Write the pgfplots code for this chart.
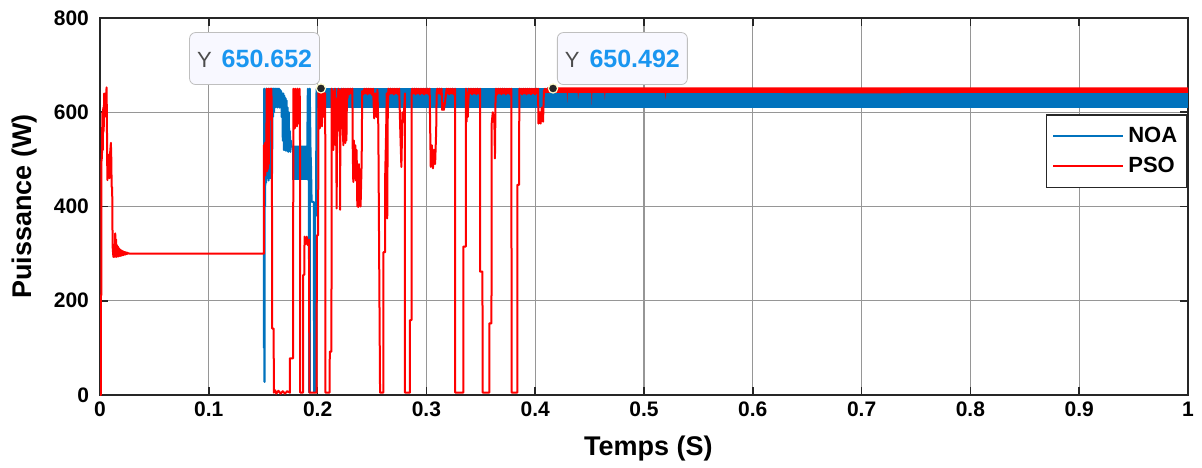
\documentclass[border=0pt]{standalone}
\usepackage{fontspec}
\setmainfont{Liberation Sans}
\usepackage{pgfplots}
\pgfplotsset{compat=1.18}
\definecolor{noablue}{RGB}{0,114,189}
\definecolor{psored}{RGB}{255,0,0}
\definecolor{tipblue}{RGB}{26,150,240}
\definecolor{gridc}{RGB}{150,150,150}
\definecolor{tipbg}{RGB}{248,248,255}
\begin{document}
\begin{tikzpicture}
\useasboundingbox (-50pt,-36pt) rectangle (551pt,197.5pt);
\begin{axis}[
  scale only axis, width=544pt, height=188.5pt,
  xmin=0, xmax=1, ymin=0, ymax=800,
  xtick={0,0.1,0.2,0.3,0.4,0.5,0.6,0.7,0.8,0.9,1},
  xticklabels={0,0.1,0.2,0.3,0.4,0.5,0.6,0.7,0.8,0.9,1},
  ytick={0,200,400,600,800},
  grid=major, major grid style={gridc, line width=0.6pt},
  tick align=inside, major tick length=4pt,
  axis line style={black!85, line width=0.9pt},
  tick style={black!85, line width=0.8pt},
  /pgf/number format/assume math mode=true,
  ticklabel style={font=\bfseries\fontsize{10.5}{12}\selectfont},
  yticklabel style={xshift=-2pt},
  xlabel={Temps (S)}, ylabel={Puissance (W)},
  label style={font=\bfseries\fontsize{13.5}{16}\selectfont},
  xlabel style={at={(axis description cs:0.504,-0.143)}, anchor=center},
  ylabel style={at={(axis description cs:-0.069,0.5)}, anchor=center},
  legend style={at={(axis description cs:1,0.745)}, anchor=north east,
    draw=black!85, line width=0.8pt, fill=white, row sep=2pt, inner ysep=4pt,
    font=\bfseries\fontsize{11}{13}\selectfont},
  legend image code/.code={\draw[#1] (0pt,0pt) -- (35pt,0pt);},
  legend cell align=left,
]
% NOA band (rapid oscillation 610-651)
\addplot[fill=noablue, draw=none, forget plot] coordinates {(0.199,610) (1,610) (1,651) (0.199,651)};
\addplot[fill=noablue, draw=none, forget plot] coordinates {(0.1762,456) (0.1912,456) (0.1912,527) (0.1762,527)};
% NOA
\addplot[noablue, line width=1pt, line join=round] coordinates {
(0.1505,300) (0.1507,300) (0.1507,100) (0.1509,100) (0.1509,650) (0.1511,650) (0.1511,28) (0.1514,28)
(0.1514,640) (0.1518,400) (0.1522,620) (0.1526,450) (0.1530,650) (0.1534,460) (0.1538,645) (0.1542,470)
(0.1546,650) (0.155,455) (0.1554,640) (0.1558,480) (0.1562,650) (0.1566,460) (0.157,645) (0.1574,500)
(0.1578,650) (0.1582,470) (0.1586,650) (0.159,590) (0.1595,650) (0.160,600) (0.1605,650) (0.161,610)
(0.1615,650) (0.162,612) (0.1625,650) (0.163,610) (0.1635,650) (0.164,612) (0.1645,650) (0.165,610)
(0.1655,648) (0.166,610) (0.1665,645) (0.167,590) (0.1675,640) (0.168,540) (0.1685,640) (0.169,520)
(0.1695,635) (0.170,520) (0.1705,630) (0.171,518) (0.1715,625) (0.172,520) (0.1725,610) (0.173,516)
(0.1735,600) (0.174,520) (0.1745,560) (0.175,516) (0.1755,540) (0.176,527)
(0.1905,527) (0.191,650) (0.1915,456) (0.192,527) (0.1922,6) (0.1928,6)
(0.1928,650) (0.1935,520) (0.1940,480) (0.1945,410) (0.1965,410) (0.1968,6) (0.1975,6) (0.1978,380)
(0.1985,380) (0.199,650)
};
\addlegendentry{NOA}
% PSO
\addplot[psored, line width=1pt, line join=round] coordinates {
(0,0) (0.0008,0) (0.0008,212) (0.0013,212) (0.0013,495) (0.0018,505) (0.0022,600) (0.0026,520)
(0.003,610) (0.0034,560) (0.0038,640) (0.0042,590) (0.0046,620) (0.005,640) (0.0055,600) (0.006,653)
(0.0063,600) (0.0066,500) (0.0068,456) (0.0072,500) (0.0076,505) (0.0079,470) (0.0082,510) (0.0086,460)
(0.009,500) (0.0095,520) (0.0100,535) (0.0104,500) (0.0107,442) (0.0112,440) (0.0116,315) (0.0123,293)
(0.0127,315) (0.013,295) (0.0134,320) (0.0137,293) (0.014,343) (0.0144,295) (0.0148,330) (0.0152,293)
(0.0156,318) (0.016,294) (0.0164,315) (0.0168,294) (0.0172,312) (0.0176,295) (0.018,310) (0.0184,295)
(0.0188,308) (0.0192,296) (0.0196,307) (0.02,296) (0.0204,306) (0.0208,297) (0.0212,305) (0.0216,297)
(0.022,304) (0.0224,298) (0.0228,303) (0.0232,298) (0.0236,303) (0.024,299) (0.0244,302) (0.0248,299)
(0.0252,302) (0.0256,300) (0.026,301) (0.027,300) (0.1507,300)
(0.1507,530) (0.1512,470) (0.1516,535) (0.152,466) (0.1524,530) (0.1528,480) (0.1532,650) (0.1536,475)
(0.154,645) (0.1544,480) (0.1548,650) (0.1552,490) (0.1556,640) (0.156,600) (0.1565,650) (0.157,585)
(0.1575,650) (0.158,590) (0.1582,141) (0.1596,141) (0.1598,5) (0.161,10) (0.162,3) (0.164,9)
(0.166,3) (0.168,8) (0.17,3) (0.172,8) (0.1746,5) (0.1746,78) (0.1775,78) (0.1777,650)
(0.178,580) (0.1785,648) (0.179,566) (0.1795,650) (0.18,600) (0.1805,645) (0.181,570) (0.1815,650)
(0.182,590) (0.1825,645) (0.183,575) (0.1835,650) (0.1838,600) (0.1840,5) (0.1866,5) (0.1868,255)
(0.1878,255) (0.188,336) (0.189,320) (0.190,336) (0.191,318) (0.1922,330) (0.1924,5) (0.1991,5)
(0.1993,339) (0.2005,339) (0.2008,650) (0.201,580) (0.2015,648) (0.202,566) (0.2025,650) (0.203,600)
(0.2035,645) (0.204,570) (0.2045,650) (0.205,610) (0.2055,648) (0.206,590) (0.207,640) (0.2072,5)
(0.211,5) (0.2112,92) (0.2127,92) (0.213,650) (0.2135,533) (0.214,640) (0.2145,520) (0.215,645)
(0.2155,540) (0.216,650) (0.2165,530) (0.217,600) (0.2175,396) (0.218,630) (0.2185,560) (0.219,650)
(0.2195,620) (0.22,648) (0.2205,600) (0.2207,393) (0.221,640) (0.2215,620) (0.222,650) (0.2225,600)
(0.2237,530) (0.224,650) (0.2245,540) (0.225,645) (0.2255,535) (0.226,650) (0.2265,540) (0.227,648)
(0.2275,630) (0.228,650) (0.229,638) (0.230,650) (0.231,640) (0.232,650) (0.2322,537) (0.2328,452)
(0.2334,540) (0.234,460) (0.2346,530) (0.2352,455) (0.2358,520) (0.236,495) (0.2365,400) (0.237,480)
(0.2375,399) (0.238,490) (0.2385,405) (0.239,470) (0.2395,400) (0.2405,495) (0.241,645) (0.242,638)
(0.243,650) (0.244,640) (0.245,650) (0.246,638) (0.247,650) (0.248,640) (0.249,650) (0.25,637)
(0.251,650) (0.252,587) (0.253,640) (0.254,590) (0.255,648) (0.2558,570) (0.2574,5) (0.2604,5)
(0.2604,303) (0.262,303) (0.262,452) (0.263,560) (0.2635,640) (0.264,375) (0.2645,600) (0.265,650)
(0.266,638) (0.267,650) (0.268,640) (0.269,650) (0.270,638) (0.271,650) (0.272,640) (0.273,650)
(0.274,638) (0.275,650) (0.276,560) (0.277,484) (0.278,600) (0.279,580) (0.2803,640) (0.2803,5)
(0.2849,5) (0.2849,159) (0.2864,159) (0.2864,640) (0.287,650) (0.288,640) (0.289,650) (0.29,638)
(0.291,650) (0.292,640) (0.293,650) (0.294,638) (0.295,650) (0.296,640) (0.297,650) (0.298,638)
(0.299,650) (0.3,640) (0.301,650) (0.302,638) (0.303,650) (0.3035,560) (0.304,484) (0.305,530)
(0.306,481) (0.307,520) (0.308,490) (0.309,560) (0.3094,640) (0.31,650) (0.311,640) (0.312,650)
(0.313,638) (0.314,650) (0.3145,605) (0.315,620) (0.316,605) (0.317,620) (0.3186,650) (0.319,640)
(0.32,650) (0.321,638) (0.322,650) (0.323,640) (0.324,650) (0.325,638) (0.3263,650) (0.3265,5)
(0.3339,5) (0.3339,315) (0.3362,315) (0.3364,650) (0.337,580) (0.3375,640) (0.338,590) (0.339,650)
(0.34,640) (0.341,650) (0.342,638) (0.343,650) (0.344,640) (0.345,650) (0.346,638) (0.347,650)
(0.348,640) (0.3493,650) (0.3493,262) (0.3515,262) (0.3517,5) (0.3578,5) (0.3578,152) (0.3598,152)
(0.36,576) (0.361,600) (0.3625,576) (0.363,502) (0.3635,620) (0.364,650) (0.365,638) (0.366,650)
(0.367,640) (0.368,650) (0.369,638) (0.370,650) (0.371,640) (0.372,650) (0.373,638) (0.374,650)
(0.375,640) (0.376,650) (0.377,638) (0.378,650) (0.3784,5) (0.3835,5) (0.3835,446) (0.3852,446)
(0.3854,650) (0.386,640) (0.387,650) (0.388,638) (0.389,650) (0.39,640) (0.391,650) (0.392,638)
(0.393,650) (0.394,640) (0.395,650) (0.396,638) (0.397,650) (0.398,640) (0.399,650) (0.4,638)
(0.401,650) (0.402,640) (0.4026,650) (0.403,576) (0.404,600) (0.405,576) (0.406,610) (0.4072,580)
(0.408,645) (0.409,650) (0.41,642) (0.411,650)
};
\addlegendentry{PSO}
% PSO band after convergence
\addplot[fill=psored, draw=none, forget plot] coordinates {
(0.411,653) (1,653) (1,641) (0.80,641) (0.70,640) (0.62,641) (0.5205,641) (0.520,628) (0.519,641)
(0.4645,641) (0.464,626) (0.4635,641) (0.4525,641) (0.452,615) (0.4515,641) (0.44,641) (0.4395,628)
(0.439,641) (0.43,641) (0.4295,620) (0.429,641) (0.411,641)
};
% data tips
\node[draw=black!25, fill=tipbg, rounded corners=3pt, minimum width=65pt, minimum height=26pt,
  anchor=south east, inner sep=0pt] at (axis cs:0.2022,658)
  {{\fontsize{11}{13}\selectfont\color{black!70}Y}\hspace{5pt}{\color{tipblue}\bfseries\fontsize{12.5}{14}\selectfont 650.652}};
\node[draw=black!25, fill=tipbg, rounded corners=3pt, minimum width=65pt, minimum height=26pt,
  anchor=south west, inner sep=0pt] at (axis cs:0.42,658)
  {{\fontsize{11}{13}\selectfont\color{black!70}Y}\hspace{5pt}{\color{tipblue}\bfseries\fontsize{12.5}{14}\selectfont 650.492}};
\addplot[only marks, mark=*, mark size=2.3pt, forget plot,
  mark options={draw=yellow!20!white, fill=black!85, line width=0.6pt}]
  coordinates {(0.2031,650.652) (0.4164,650.492)};
\end{axis}
\end{tikzpicture}
\end{document}
